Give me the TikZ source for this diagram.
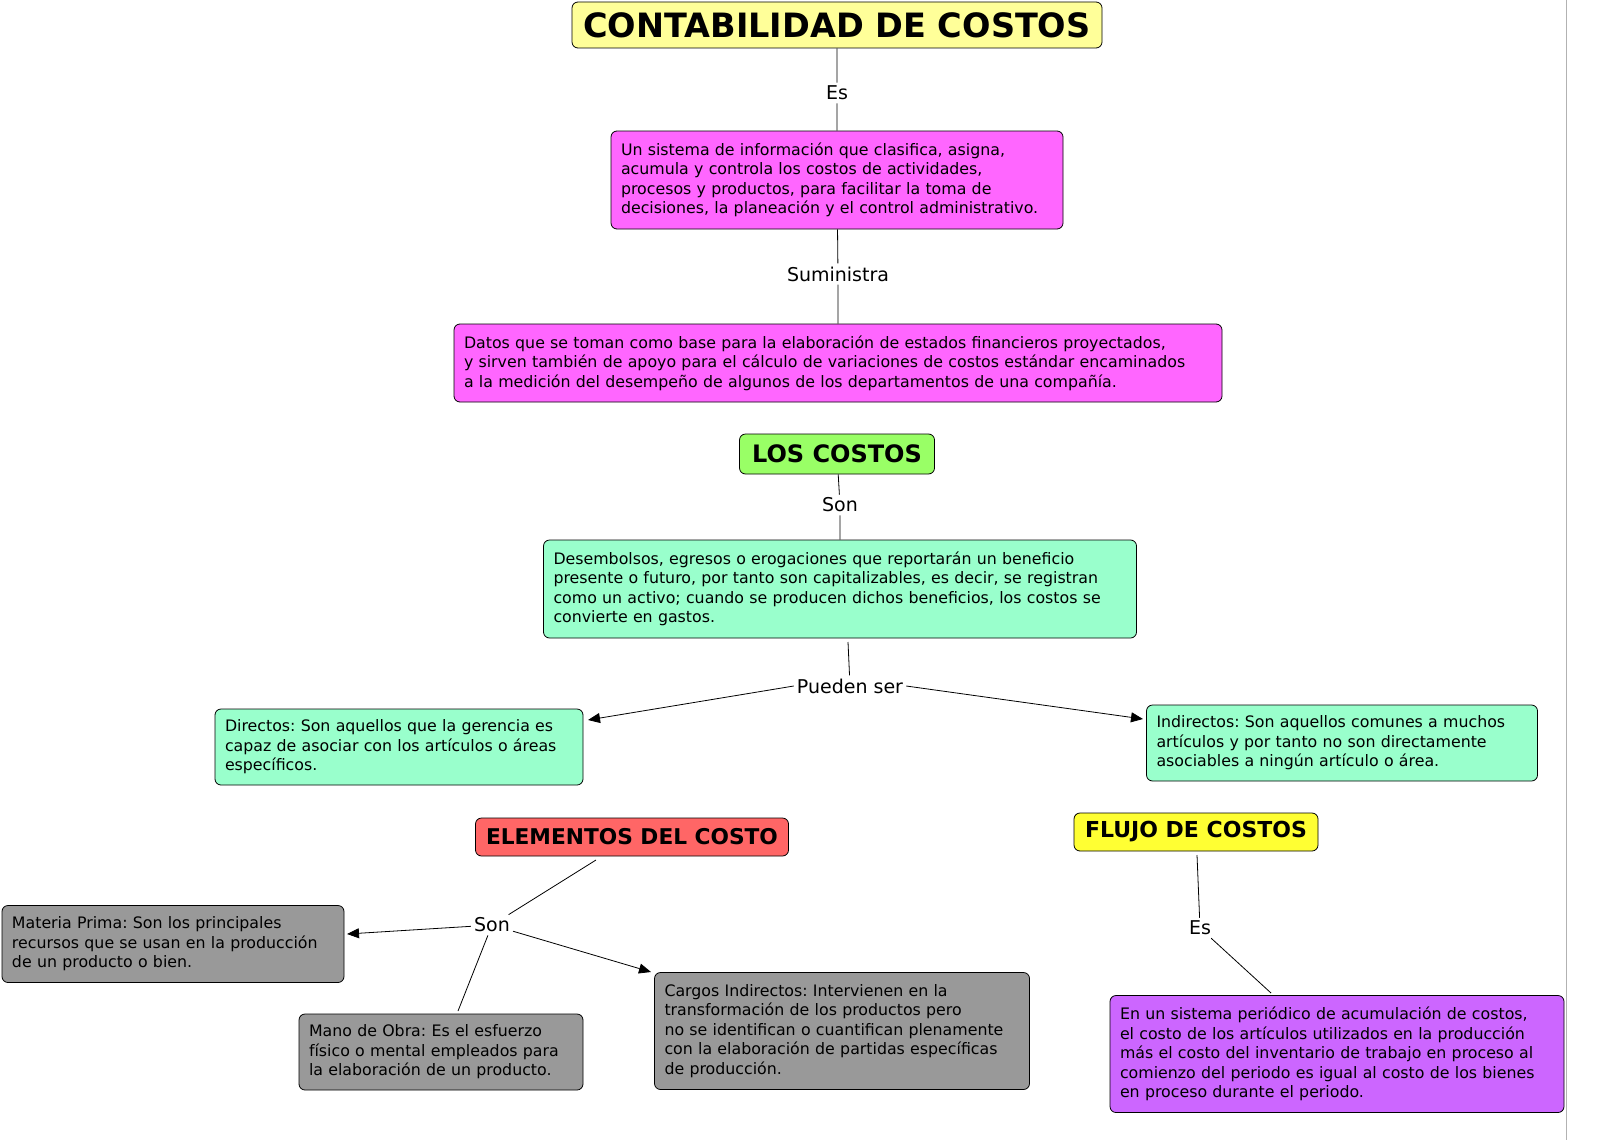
\documentclass[tikz,border=0pt]{standalone}
\usepackage{fontspec}
\setmainfont{DejaVu Sans}
\usetikzlibrary{arrows.meta}
\frenchspacing
\begin{document}
\begin{tikzpicture}[x=1pt,y=-1pt,
 box/.style={draw=black,rounded corners=6pt,line width=0.8pt,inner xsep=10pt,inner ysep=6pt,align=left,font=\fontsize{15.8}{19.5}\selectfont},
 head/.style={draw=black,rounded corners=6pt,line width=0.8pt,inner sep=0pt,font=\bfseries},
 lab/.style={fill=white,inner sep=3pt,font=\fontsize{19}{21}\selectfont},
 con/.style={line width=0.8pt},
 arr/.style={line width=0.8pt,-{Triangle[length=12pt,width=10pt]}}]
\frenchspacing
\useasboundingbox (0,0) rectangle (1600,1140);
\draw[gray!60,line width=1pt] (1566,0) -- (1566,1140);
\definecolor{cy}{HTML}{FFFF99}\definecolor{cm}{HTML}{FF66FF}\definecolor{cg}{HTML}{99FF66}
\definecolor{ct}{HTML}{99FFCC}\definecolor{cr}{HTML}{FF6666}\definecolor{cy2}{HTML}{FFFF33}
\definecolor{cgr}{HTML}{999999}\definecolor{cp}{HTML}{CC66FF}
\node[head,fill=cy,minimum width=530,minimum height=46,font=\bfseries\fontsize{33.5}{36}\selectfont] (title) at (837,25) {CONTABILIDAD DE COSTOS};
\node[lab] (es1) at (837,93) {Es};
\node[box,fill=cm,text width=432,minimum height=98] (def) at (837,180) {Un sistema de información que clasifica, asigna,\\acumula y controla los costos de actividades,\\procesos y productos, para facilitar la toma de\\decisiones, la planeación y el control administrativo.};
\node[lab] (sum) at (838,274) {Suministra};
\node[box,fill=cm,text width=748,minimum height=78] (datos) at (838,363) {Datos que se toman como base para la elaboración de estados financieros proyectados,\\y sirven también de apoyo para el cálculo de variaciones de costos estándar encaminados\\a la medición del desempeño de algunos de los departamentos de una compañía.};
\draw[con] (title) -- (es1) -- (def) -- (sum) -- (datos);
\node[head,fill=cg,minimum width=195,minimum height=40,font=\bfseries\fontsize{24}{26}\selectfont] (costos) at (837,454) {LOS COSTOS};
\node[lab] (son1) at (840,505) {Son};
\node[box,fill=ct,text width=573,minimum height=98] (des) at (840,589) {Desembolsos, egresos o erogaciones que reportarán un beneficio\\presente o futuro, por tanto son capitalizables, es decir, se registran\\como un activo; cuando se producen dichos beneficios, los costos se\\convierte en gastos.};
\draw[con] (costos) -- (son1) -- (des);
\node[lab] (pue) at (850,686) {Pueden ser};
\node[box,fill=ct,text width=348,minimum height=76] (dir) at (399,747) {Directos: Son aquellos que la gerencia es\\capaz de asociar con los artículos o áreas\\específicos.};
\node[box,fill=ct,text width=371,minimum height=76] (ind) at (1342,743) {Indirectos: Son aquellos comunes a muchos\\artículos y por tanto no son directamente\\asociables a ningún artículo o área.};
\draw[con] (848,642) -- (pue);
\draw[arr] (pue.west) -- (588,720);
\draw[arr] (pue.east) -- (1143,719);
\node[head,fill=cr,minimum width=313,minimum height=38,font=\bfseries\fontsize{21.7}{24}\selectfont] (elem) at (632,837) {ELEMENTOS DEL COSTO};
\node[lab] (son2) at (492,925) {Son};
\node[box,fill=cgr,text width=322,minimum height=77] (mat) at (173,944) {Materia Prima: Son los principales\\recursos que se usan en la producción\\de un producto o bien.};
\node[box,fill=cgr,text width=264,minimum height=76] (mano) at (441,1052) {Mano de Obra: Es el esfuerzo\\físico o mental empleados para\\la elaboración de un producto.};
\node[box,fill=cgr,text width=355,minimum height=117] (car) at (842,1031) {Cargos Indirectos: Intervienen en la\\transformación de los productos pero\\no se identifican o cuantifican plenamente\\con la elaboración de partidas específicas\\de producción.};
\draw[con] (596,860) -- (son2);
\draw[arr] (son2) -- (347,934);
\draw[arr] (son2) -- (651,972);
\draw[con] (son2) -- (458,1011);
\node[head,fill=cy2,minimum width=244,minimum height=38,font=\bfseries\fontsize{22}{24}\selectfont] (flujo) at (1196,832) {FLUJO DE COSTOS};
\node[lab] (es2) at (1200,928) {Es};
\node[box,fill=cp,text width=434,minimum height=117] (sis) at (1337,1054) {En un sistema periódico de acumulación de costos,\\el costo de los artículos utilizados en la producción\\más el costo del inventario de trabajo en proceso al\\comienzo del periodo es igual al costo de los bienes\\en proceso durante el periodo.};
\draw[con] (1197,855) -- (es2);
\draw[con] (es2) -- (1271,993);
\end{tikzpicture}
\end{document}
